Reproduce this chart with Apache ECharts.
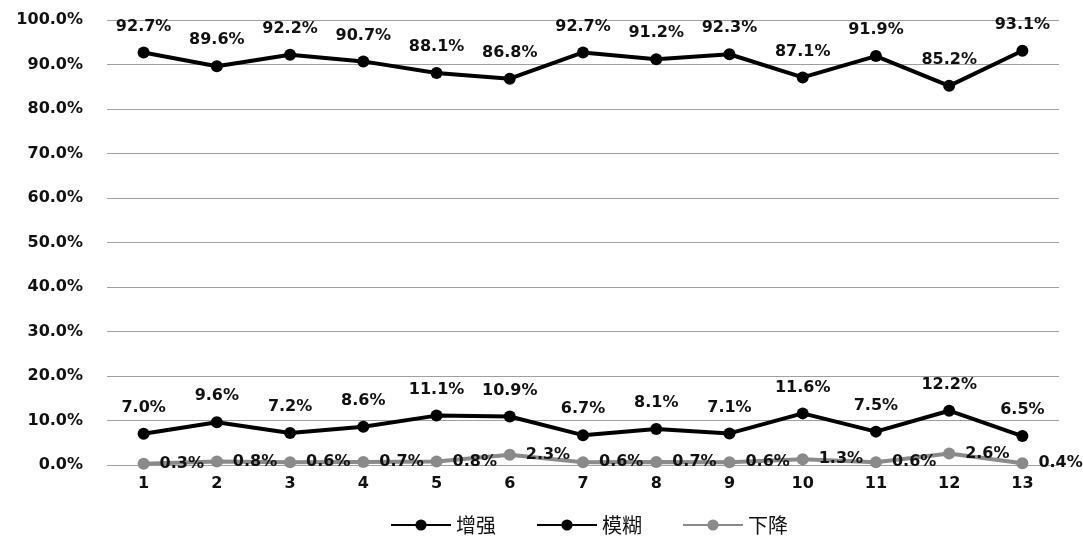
<!DOCTYPE html>
<html><head><meta charset="utf-8">
<script src="https://cdn.jsdelivr.net/npm/echarts@6/dist/echarts.min.js"></script>
<style>html,body{margin:0;padding:0;background:#fff}#c{width:1083px;height:538px}</style>
</head><body><div id="c"></div>
<script>
const categories = ['1','2','3','4','5','6','7','8','9','10','11','12','13'];
const seriesNames = ['增强','模糊','下降'];
const enhance = [92.7,89.6,92.2,90.7,88.1,86.8,92.7,91.2,92.3,87.1,91.9,85.2,93.1];
const blur = [7.0,9.6,7.2,8.6,11.1,10.9,6.7,8.1,7.1,11.6,7.5,12.2,6.5];
const decline = [0.3,0.8,0.6,0.7,0.8,2.3,0.6,0.7,0.6,1.3,0.6,2.6,0.4];
const yTicks = [0,10,20,30,40,50,60,70,80,90,100];

const font = 'DejaVu Sans';
const fmt = p => p.value.toFixed(1) + '%';
function mk(name, data, color, pos) {
  return {
    name, type: 'line', data, symbol: 'circle', symbolSize: 12,
    lineStyle: {color, width: 4}, itemStyle: {color},
    label: {show: true, position: pos, distance: pos === 'right' ? 10 : 12, formatter: fmt,
      fontFamily: font, fontWeight: 'bold', fontSize: 16, color: '#111'},
    z: name === '下降' ? 1 : 2
  };
}
const chart = echarts.init(document.getElementById('c'));
chart.setOption({
  backgroundColor: '#fff',
  animation: false,
  grid: {left: 107, right: 24, top: 20, bottom: 73, containLabel: false},
  legend: {
    data: seriesNames, bottom: -2, left: 385, itemWidth: 60, itemHeight: 14, itemGap: 40,
    textStyle: {fontFamily: 'Noto Sans CJK SC', fontSize: 20, color: '#111'}
  },
  xAxis: {
    type: 'category', data: categories, boundaryGap: true,
    axisLine: {show: false}, axisTick: {show: false},
    axisLabel: {fontFamily: font, fontWeight: 'bold', fontSize: 16, color: '#111', margin: 11}
  },
  yAxis: {
    type: 'value', min: 0, max: 100, interval: 10,
    axisLine: {show: false}, axisTick: {show: false},
    axisLabel: {fontFamily: font, fontWeight: 'bold', fontSize: 16, color: '#111', margin: 24,
      formatter: v => yTicks.includes(v) ? v.toFixed(1) + '%' : ''},
    splitLine: {lineStyle: {color: '#a0a0a0', width: 1}}
  },
  series: [
    mk(seriesNames[0], enhance, '#000', 'top'),
    mk(seriesNames[1], blur, '#000', 'top'),
    mk(seriesNames[2], decline, '#8a8a8a', 'right')
  ]
});
</script></body></html>
